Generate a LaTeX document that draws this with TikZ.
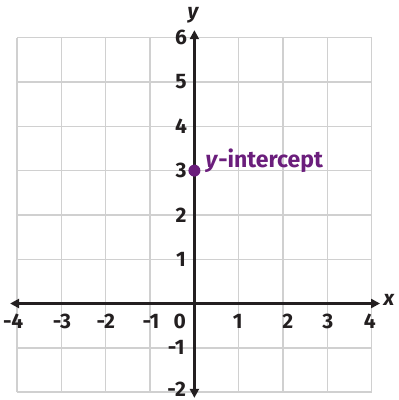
\documentclass[tikz,border=0pt]{standalone}
\usepackage{fontspec}
\setmainfont{Fira Sans}
\usetikzlibrary{arrows.meta}
\definecolor{gridgray}{HTML}{D0D0D0}
\definecolor{axisblack}{HTML}{231F20}
\definecolor{purp}{HTML}{6B1E7C}
\tikzset{
  gridline/.style={gridgray, line width=1.4pt},
  axisline/.style={axisblack, line width=2.8pt, -{Triangle[length=9pt,width=9pt]}},
  num/.style={font=\fontsize{21}{22}\selectfont\bfseries, text=axisblack, inner sep=0pt},
  axlabel/.style={font=\fontsize{21}{22}\selectfont\bfseries\itshape, text=axisblack, inner sep=0pt},
}
\begin{document}
\begin{tikzpicture}[x=44.3pt,y=44.3pt]
\useasboundingbox (-4.388,-2.178) rectangle (4.596,6.851);
\fill[white] (-4.388,-2.178) rectangle (4.596,6.851);
% grid
\foreach \i in {-4,...,4} \draw[gridline] (\i,-2) -- (\i,6);
\foreach \j in {-2,...,6} \draw[gridline] (-4,\j) -- (4,\j);
% axes
\coordinate (o) at (0,0);
\coordinate (xr) at (4.19,0);
\coordinate (xl) at (-4.16,0);
\coordinate (yt) at (0,6.17);
\coordinate (yb) at (0,-2.13);
\draw[axisline] (o) -- (xr);
\draw[axisline] (o) -- (xl);
\draw[axisline] (o) -- (yt);
\draw[axisline] (o) -- (yb);
\node[axlabel] (xlab) at (4.39,0.08) {x};
\node[axlabel] (ylab) at (-0.03,6.51) {y};
% x numbers
\node[num] (xm4) at (-4.09,-0.40) {-4};
\node[num] (xm3) at (-2.99,-0.40) {-3};
\node[num] (xm2) at (-2.0,-0.40) {-2};
\node[num] (xm1) at (-0.98,-0.40) {-1};
\node[num] (x0) at (-0.33,-0.40) {0};
\node[num] (x1) at (0.98,-0.40) {1};
\node[num] (x2) at (2.11,-0.40) {2};
\node[num] (x3) at (3.01,-0.40) {3};
\node[num] (x4) at (3.96,-0.40) {4};
% y numbers
\foreach \k in {1,...,6} \node[num] (y\k) at (-0.30,\k) {\k};
\node[num] (ym1) at (-0.41,-1) {-1};
\node[num] (ym2) at (-0.40,-1.93) {-2};
% point
\fill[purp] (0,3) circle (6pt);
\node[coordinate] (pt) at (0,3) {};
\node[anchor=base west, inner sep=0pt, font=\fontsize{23}{24}\selectfont\bfseries, text=purp] (lab) at (0.25,3.07) {\textit{y}-intercept};
\end{tikzpicture}
\end{document}
